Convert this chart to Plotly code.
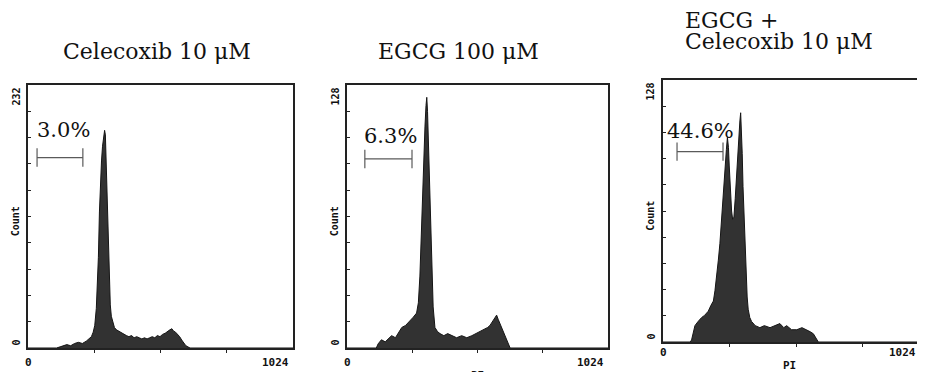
import plotly.graph_objects as go

# ---------------- data ----------------
titles = ["Celecoxib 10 \u03bcM", "EGCG 100 \u03bcM", "EGCG +", "Celecoxib 10 \u03bcM"]
y_max = [232, 128, 128]
x_max = 1024
percent_labels = ["3.0%", "6.3%", "44.6%"]
axis_title_x = "PI"
axis_title_y = "Count"

# gate (marker) ranges in channel units and the count level they sit at
gate_start = [35, 70, 54]
gate_end = [212, 255, 231]
gate_level = [168, 92, 93]
label_x = [137, 169, 146]
label_y = [192, 103, 103]

# Panel 1: Celecoxib 10 uM (channel, count)
ch1 = [0, 110, 124, 135, 150, 165, 180, 195, 210, 225, 235, 245, 252, 258, 264, 268, 272, 276,
       280, 284, 288, 292, 296, 299, 302, 305, 308, 311, 314, 318, 322, 328, 334, 342, 350, 360,
       370, 380, 390, 400, 410, 420, 430, 440, 450, 460, 470, 480, 490, 500, 510, 520, 530, 540,
       548, 556, 562, 570, 578, 586, 594, 602, 610, 618, 626, 1024]
cnt1 = [0, 0, 1, 2, 3, 2, 4, 5, 4, 6, 8, 10, 14, 20, 35, 55, 80, 120,
        150, 165, 178, 185, 192, 188, 165, 140, 110, 80, 55, 38, 28, 22, 18, 16, 15, 13,
        12, 11, 10, 11, 9, 10, 9, 8, 9, 8, 9, 10, 9, 11, 10, 12, 13, 15,
        16, 17, 15, 14, 12, 10, 7, 4, 2, 1, 0, 0]

# Panel 2: EGCG 100 uM
ch2 = [0, 115, 122, 135, 150, 165, 175, 190, 205, 215, 230, 247, 260, 273, 280, 286, 290, 293,
       297, 302, 306, 310, 313, 316, 319, 323, 327, 332, 338, 345, 355, 365, 380, 395, 416, 430,
       450, 470, 490, 505, 522, 540, 552, 561, 572, 581, 587, 593, 600, 610, 620, 630, 640, 1024]
cnt2 = [0, 0, 2, 4, 3, 5, 6, 5, 8, 10, 11, 13, 15, 17, 22, 35, 50, 66,
        80, 95, 108, 118, 122, 115, 100, 87, 62, 38, 20, 10, 8, 7, 6, 7, 6, 5,
        6, 5, 6, 7, 8, 9, 10, 11, 13, 15, 16, 14, 12, 9, 6, 3, 0, 0]

# Panel 3: EGCG 100 uM + Celecoxib 10 uM
ch3 = [0, 105, 110, 116, 123, 135, 149, 160, 174, 185, 194, 200, 207, 213, 219, 225, 230, 235,
       239, 244, 248, 252, 255, 259, 264, 268, 273, 278, 284, 289, 293, 296, 299, 302, 305, 308,
       312, 316, 320, 324, 328, 334, 341, 355, 373, 390, 412, 430, 450, 465, 476, 495, 515, 535,
       553, 567, 579, 590, 598, 1024]
cnt3 = [0, 0, 1, 5, 8, 10, 12, 13, 15, 18, 20, 25, 32, 40, 48, 60, 71, 80,
        87, 94, 100, 95, 86, 75, 64, 60, 61, 70, 84, 96, 103, 108, 112, 104, 92, 76,
        60, 45, 32, 22, 16, 12, 10, 8, 7, 8, 7, 8, 9, 7, 8, 6, 6, 7,
        6, 5, 4, 2, 0, 0]

channels = [ch1, ch2, ch3]
counts = [cnt1, cnt2, cnt3]

# ---------------- layout geometry ----------------
# the page body has an 8px margin, so the figure is drawn 8px smaller
W, H = 917, 364
x_dom = [[20 / W, 285 / W], [339 / W, 600 / W], [655 / W, 1.0]]
y_dom = [[1 - 340 / H, 1 - 77 / H], [1 - 340 / H, 1 - 77 / H], [1 - 334 / H, 1 - 72 / H]]
x_rng = [[0, x_max], [0, x_max], [0, x_max * 262 / 266]]
xlab_shift = [-6, -6, -2]
xend_shift = [-2, -2, -7]
pi_shift = [0, -19, -15]
pi_x = [0, 512, 488]

fill_col = "#323232"
line_col = "#151515"
axis_col = "#222222"
serif = "DejaVu Serif, serif"
tickfont = "DejaVu Sans Mono, monospace"

fig = go.Figure()
annotations = []

for i in range(3):
    xa = "x" if i == 0 else f"x{i+1}"
    ya = "y" if i == 0 else f"y{i+1}"
    fig.add_trace(go.Scatter(
        x=channels[i], y=counts[i], xaxis=xa, yaxis=ya, mode="lines",
        line=dict(color=line_col, width=1), fill="tozeroy", fillcolor=fill_col,
        hoverinfo="skip", showlegend=False))
    # gate bracket
    cap = y_max[i] * 0.035
    gx = [gate_start[i], gate_end[i], None, gate_start[i], gate_start[i], None, gate_end[i], gate_end[i]]
    gy = [gate_level[i], gate_level[i], None, gate_level[i] - cap, gate_level[i] + cap, None,
          gate_level[i] - cap, gate_level[i] + cap]
    fig.add_trace(go.Scatter(
        x=gx, y=gy, xaxis=xa, yaxis=ya, mode="lines",
        line=dict(color="#5a5a5a", width=1.2), hoverinfo="skip", showlegend=False))

    axkey = "xaxis" if i == 0 else f"xaxis{i+1}"
    aykey = "yaxis" if i == 0 else f"yaxis{i+1}"
    fig.update_layout(**{
        axkey: dict(domain=x_dom[i], range=x_rng[i], anchor=ya, showline=True, linecolor=axis_col,
                    linewidth=1.5, mirror=True, ticks="outside", ticklen=3, tickcolor=axis_col,
                    tickvals=[256, 512, 768], showticklabels=False, showgrid=False, zeroline=False),
        aykey: dict(domain=y_dom[i], range=[0, y_max[i]], anchor=xa, showline=True, linecolor=axis_col,
                    linewidth=1.5, mirror=(i < 2), ticks="inside", ticklen=3, tickcolor=axis_col,
                    dtick=y_max[i] / 10, showticklabels=False, showgrid=False, zeroline=False),
    })

    xd = f"{xa} domain"
    yd = f"{ya} domain"
    small = dict(family=tickfont, size=11, color="#111111")
    ysmall = dict(family=tickfont, size=10, color="#111111")
    # tick labels
    annotations += [
        dict(text="<b>0</b>", xref=xd, yref=yd, x=0, y=0, xanchor="center", yanchor="top",
             yshift=xlab_shift[i], showarrow=False, font=small),
        dict(text=f"<b>{x_max}</b>", xref=xd, yref=yd, x=1, y=0, xanchor="right",
             yanchor="top", xshift=xend_shift[i], yshift=xlab_shift[i], showarrow=False, font=small),
        dict(text="<b>0</b>", xref=xd, yref=yd, x=0, y=0, xanchor="right", yanchor="bottom",
             xshift=-5, yshift=0, textangle=-90, showarrow=False, font=ysmall),
        dict(text=f"<b>{y_max[i]}</b>", xref=xd, yref=yd, x=0, y=1, xanchor="right", yanchor="top",
             xshift=-5, yshift=-1, textangle=-90, showarrow=False, font=ysmall),
        dict(text=f"<b>{axis_title_y}</b>", xref=xd, yref=yd, x=0, y=0.48, xanchor="right",
             yanchor="middle", xshift=-5, textangle=-90, showarrow=False, font=ysmall),
    ]
    if i > 0:
        annotations.append(dict(text=f"<b>{axis_title_x}</b>", xref=xa, yref=yd, x=pi_x[i], y=0,
                                xanchor="center", yanchor="top", yshift=pi_shift[i],
                                showarrow=False, font=small))
    # percentage label
    annotations.append(dict(text=percent_labels[i], xref=xa, yref=ya, x=label_x[i], y=label_y[i],
                            xanchor="center", yanchor="middle", showarrow=False,
                            font=dict(family=serif, size=21, color="#111111")))

# panel titles
tfont = dict(family=serif, size=22, color="#111111")
annotations += [
    dict(text=titles[0], xref="paper", yref="paper", x=149 / W, y=1 - 43 / H, xanchor="center",
         yanchor="middle", showarrow=False, font=tfont),
    dict(text=titles[1], xref="paper", yref="paper", x=450 / W, y=1 - 43 / H, xanchor="center",
         yanchor="middle", showarrow=False, font=tfont),
    dict(text=titles[2], xref="paper", yref="paper", x=675 / W, y=1 - 13 / H, xanchor="left",
         yanchor="middle", showarrow=False, font=tfont),
    dict(text=titles[3], xref="paper", yref="paper", x=675 / W, y=1 - 33 / H, xanchor="left",
         yanchor="middle", showarrow=False, font=tfont),
]

fig.update_layout(
    width=W, height=H, margin=dict(l=0, r=0, t=0, b=0),
    paper_bgcolor="white", plot_bgcolor="white",
    annotations=annotations, showlegend=False,
)

fig.write_html("out.html")
